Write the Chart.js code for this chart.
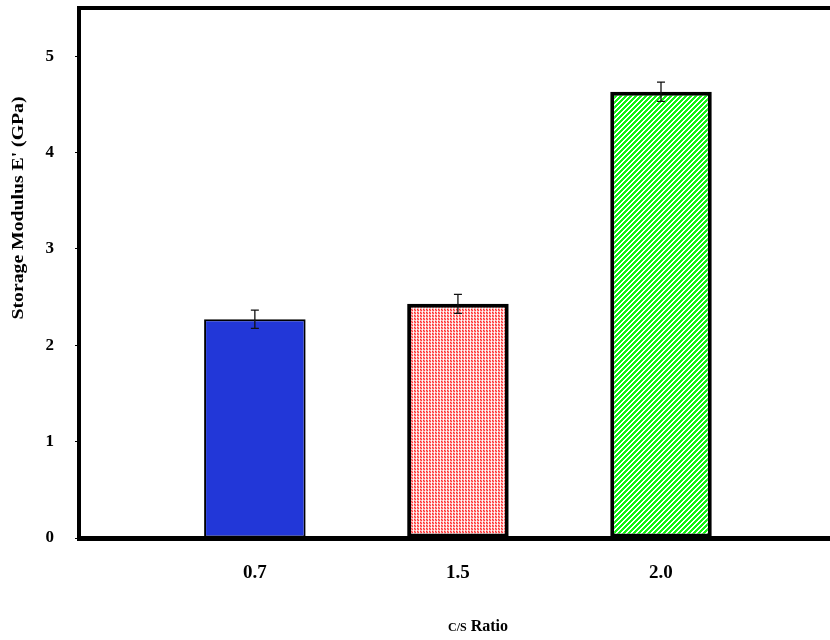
<!DOCTYPE html>
<html>
<head>
<meta charset="utf-8">
<script src="https://cdn.jsdelivr.net/npm/chart.js@4.4.0/dist/chart.umd.min.js"></script>
<style>
  html, body { margin: 0; padding: 0; background: #fff; overflow: hidden; }
  #wrap { width: 830px; height: 640px; overflow: hidden; }
</style>
</head>
<body>
<div id="wrap"><canvas id="chart" width="840" height="640"></canvas></div>
<script>
// =======================
// Data
// =======================
const categories = ["0.7", "1.5", "2.0"];
const modulus = [2.27, 2.43, 4.63];   // storage modulus E' (GPa)
const modulusErr = [0.094, 0.098, 0.1];
const yTicks = [0, 1, 2, 3, 4, 5];

const FONT = "'Liberation Serif', 'Times New Roman', serif";

// =======================
// Fill patterns
// =======================
function dotPattern(ctx) {
  const c = document.createElement("canvas");
  c.width = 3; c.height = 3;
  const g = c.getContext("2d");
  const px = [
    ["#ff2a2a", "#ff8a8a", "#fff0f0"],
    ["#ff7a7a", "#ff3a3a", "#ffe4e4"],
    ["#ffb4b4", "#ffc8c8", "#ffffff"]
  ];
  px.forEach((row, y) => row.forEach((col, x) => {
    g.fillStyle = col;
    g.fillRect(x, y, 1, 1);
  }));
  return ctx.createPattern(c, "repeat");
}

function stripePattern(ctx) {
  const c = document.createElement("canvas");
  c.width = 5; c.height = 5;
  const g = c.getContext("2d");
  for (let y = 0; y < 5; y++) {
    for (let x = 0; x < 5; x++) {
      g.fillStyle = (x + y) % 5 < 3 ? "#11f511" : "#ffffff";
      g.fillRect(x, y, 1, 1);
    }
  }
  return ctx.createPattern(c, "repeat");
}

// =======================
// Plugins: frame top line, error bars, axis titles
// =======================
const topLine = {
  id: "topLine",
  afterDraw(chart) {
    const { ctx, chartArea } = chart;
    ctx.save();
    ctx.strokeStyle = "#000";
    ctx.lineWidth = 4;
    ctx.beginPath();
    ctx.moveTo(chartArea.left - 2, chartArea.top);
    ctx.lineTo(chart.width, chartArea.top);
    ctx.stroke();
    ctx.restore();
  }
};

const errorBars = {
  id: "errorBars",
  afterDatasetsDraw(chart) {
    const { ctx, scales: { x, y } } = chart;
    ctx.save();
    ctx.strokeStyle = "#111";
    ctx.lineWidth = 1.3;
    modulus.forEach((v, i) => {
      const px = x.getPixelForValue(i);
      const top = y.getPixelForValue(v + modulusErr[i]);
      const bot = y.getPixelForValue(v - modulusErr[i]);
      ctx.beginPath();
      ctx.moveTo(px, top); ctx.lineTo(px, bot);
      ctx.moveTo(px - 4, top); ctx.lineTo(px + 4, top);
      ctx.moveTo(px - 4, bot); ctx.lineTo(px + 4, bot);
      ctx.stroke();
    });
    ctx.restore();
  }
};

const axisTitles = {
  id: "axisTitles",
  afterDraw(chart) {
    const { ctx } = chart;
    ctx.save();
    ctx.fillStyle = "#000";
    ctx.textBaseline = "middle";

    // y title (stretched a little along its length, like the original)
    const yTitle = "Storage Modulus E' (GPa)";
    ctx.font = "bold 16px " + FONT;
    const w = ctx.measureText(yTitle).width;
    ctx.translate(19, 208);
    ctx.rotate(-Math.PI / 2);
    ctx.scale(223 / w, 1);
    ctx.textAlign = "center";
    ctx.fillText(yTitle, 0, 0);
    ctx.setTransform(1, 0, 0, 1, 0, 0);

    // x title, "C/S" a bit smaller like the original
    ctx.textAlign = "left";
    ctx.font = "bold 12px " + FONT;
    const a = "C/S";
    const wa = ctx.measureText(a).width;
    ctx.font = "bold 16px " + FONT;
    const b = " Ratio";
    const wb = ctx.measureText(b).width;
    const x0 = 478 - (wa + wb) / 2;
    ctx.font = "bold 12px " + FONT;
    ctx.fillText(a, x0, 628);
    ctx.font = "bold 16px " + FONT;
    ctx.fillText(b, x0 + wa, 627);
    ctx.restore();
  }
};

// =======================
// Chart
// =======================
const ctx = document.getElementById("chart").getContext("2d");

new Chart(ctx, {
  type: "bar",
  data: {
    datasets: [{
      data: modulus.map((v, i) => ({ x: i, y: v })),
      backgroundColor: ["#2237d8", dotPattern(ctx), stripePattern(ctx)],
      borderColor: "#000",
      borderWidth: [2, 4, 4],
      borderSkipped: false,
      categoryPercentage: 1,
      barPercentage: 0.5
    }]
  },
  options: {
    responsive: false,
    animation: false,
    layout: { padding: { top: 8, right: 7, left: 0, bottom: 0 } },
    plugins: {
      legend: { display: false },
      tooltip: { enabled: false }
    },
    scales: {
      x: {
        type: "linear",
        offset: false,
        min: -0.866,
        max: 2.847,
        afterBuildTicks: scale => { scale.ticks = categories.map((c, i) => ({ value: i })); },
        afterFit: scale => { scale.height = 102; },
        grid: { display: false, drawTicks: false },
        border: { display: true, color: "#000", width: 5 },
        ticks: {
          callback: v => categories[v],
          color: "#000",
          font: { family: FONT, weight: "bold", size: 19 },
          padding: 24,
          maxRotation: 0
        }
      },
      y: {
        min: 0,
        max: 5.5,
        afterBuildTicks: scale => { scale.ticks = yTicks.map(v => ({ value: v })); },
        afterFit: scale => {
          scale.width = 79;
          scale.paddingTop = 0;
          scale.paddingBottom = 0;
        },
        grid: { drawOnChartArea: false, drawTicks: true, tickLength: 4, color: "#000", lineWidth: 1 },
        border: { display: true, color: "#000", width: 4 },
        ticks: {
          includeBounds: false,
          color: "#000",
          font: { family: FONT, weight: "bold", size: 17 },
          padding: 21
        }
      }
    }
  },
  plugins: [errorBars, topLine, axisTitles]
});
</script>
</body>
</html>
